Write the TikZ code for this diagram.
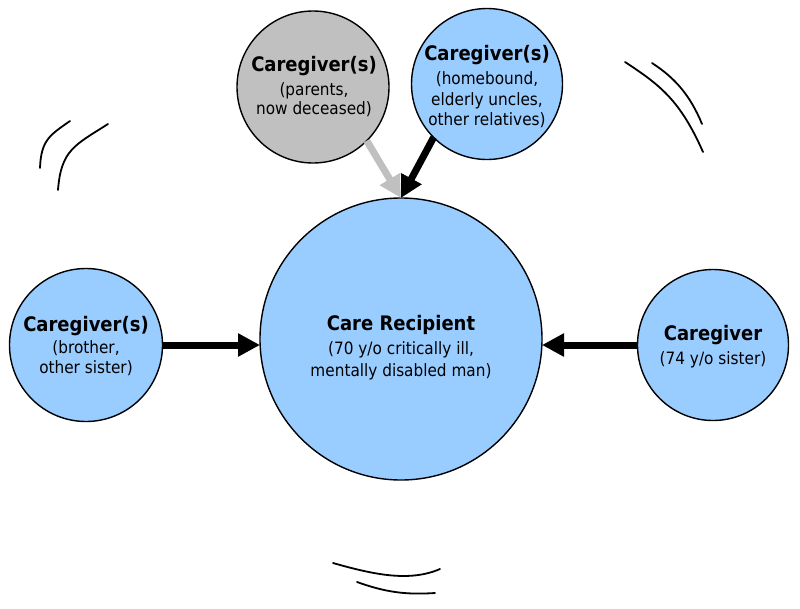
\documentclass[tikz,border=0pt]{standalone}
\usepackage{fontspec}
\setmainfont{DejaVu Sans}[FakeStretch=0.9]
\usetikzlibrary{arrows.meta}
\definecolor{cblue}{RGB}{153,204,255}
\definecolor{cgray}{RGB}{192,192,192}
\tikzset{
  circ/.style={circle, draw=black, line width=1.4pt, inner sep=0pt, outer sep=0pt},
  bluec/.style={circ, fill=cblue},
  grayc/.style={circ, fill=cgray},
  hd/.style={anchor=base, inner sep=0pt, font=\fontsize{20}{21}\bfseries\selectfont},
  sb/.style={anchor=base, inner sep=0pt, font=\fontsize{17}{20}\selectfont},
  bigarrow/.style={line width=7pt, -{Triangle[length=22pt,width=22pt]}},
  stray/.style={line width=1.8pt, line cap=round}
}
\begin{document}
\begin{tikzpicture}[x=1pt,y=-1pt]
\useasboundingbox (0,0) rectangle (800,608);
% circles
\node[bluec, minimum size=282pt] (c) at (401,339) {};
\node[bluec, minimum size=153pt] (l) at (86,345) {};
\node[bluec, minimum size=151pt] (r) at (713,345) {};
\node[grayc, minimum size=152pt] (g) at (313,87) {};
\node[bluec, minimum size=151pt] (t) at (487,84) {};
% texts
\node[hd] (c1) at (401,330) {Care Recipient};
\node[sb] (c2) at (401,354) {(70 y/o critically ill,};
\node[sb] (c3) at (401,376) {mentally disabled man)};
\node[hd] (l1) at (86,331) {Caregiver(s)};
\node[sb] (l2) at (86,353) {(brother,};
\node[sb] (l3) at (86,373) {other sister)};
\node[hd] (r1) at (713,340) {Caregiver};
\node[sb] (r2) at (713,364) {(74 y/o sister)};
\node[hd] (g1) at (314,71) {Caregiver(s)};
\node[sb] (g2) at (314,95) {(parents,};
\node[sb] (g3) at (314,114) {now deceased)};
\node[hd] (t1) at (487,60) {Caregiver(s)};
\node[sb] (t2) at (487,84) {(homebound,};
\node[sb] (t3) at (487,105) {elderly uncles,};
\node[sb] (t4) at (487,125) {other relatives)};
% arrows
\draw[bigarrow] (l.east) -- (c.west |- l.east);
\draw[bigarrow] (r.west) -- (c.east |- r.west);
\draw[bigarrow, draw=cgray, fill=cgray] (g.-45) -- (c.north);
\draw[bigarrow] (t.225) -- (c.north);
% stray strokes
\draw[stray] (40,168) .. controls (41,140) and (50,135) .. (70,121);
\draw[stray] (58,190) .. controls (61,150) and (75,145) .. (108,124);
\draw[stray] (625,62) .. controls (660,85) and (680,100) .. (703,152);
\draw[stray] (652,63) .. controls (675,78) and (690,95) .. (702,124);
\draw[stray] (333,563) .. controls (375,575) and (410,582) .. (440,569);
\draw[stray] (357,582) .. controls (385,592) and (405,595) .. (435,593);
\end{tikzpicture}
\end{document}
